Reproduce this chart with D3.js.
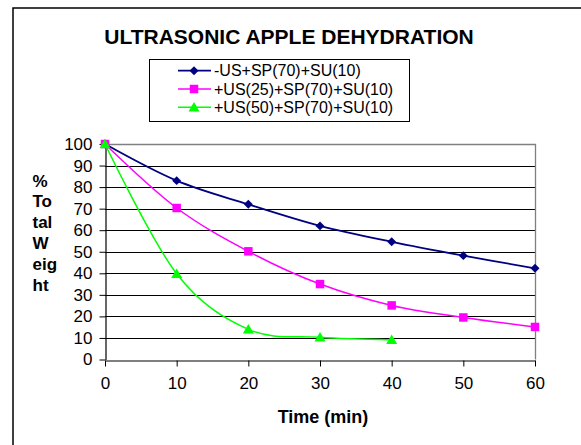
<!DOCTYPE html>
<html>
<head>
<meta charset="utf-8">
<script src="https://cdn.jsdelivr.net/npm/d3@7"></script>
<style>
  html, body { margin: 0; padding: 0; background: #fff; }
  svg { display: block; }
  text { font-family: "Liberation Sans", Arial, sans-serif; }
</style>
</head>
<body>
<svg id="chart" width="581" height="445"></svg>
<script>
// ---- data ----
const title = "ULTRASONIC APPLE DEHYDRATION";
const xTitle = "Time (min)";
const yTitleLines = ["%", "To", "tal", "W", "eig", "ht"];
const times = [0, 10, 20, 30, 40, 50, 60];
const seriesNames = ["-US+SP(70)+SU(10)", "+US(25)+SP(70)+SU(10)", "+US(50)+SP(70)+SU(10)"];
const seriesA = [100, 83, 72, 62, 54.6, 48.2, 42.3];
const seriesB = [100, 70.3, 50.2, 35, 25.1, 19.5, 15.1];
const seriesC = [100, 39.8, 14, 10.3, 9.1];
const xTicks = [0, 10, 20, 30, 40, 50, 60];
const yTicks = [0, 10, 20, 30, 40, 50, 60, 70, 80, 90, 100];

const colors = ["#000080", "#FF00FF", "#00FF00"];
const markers = [d3.symbolSquare, d3.symbolSquare, d3.symbolTriangle];
const markerSizes = [40, 72, 52];
const markerRot = [45, 0, 0];
const allSeries = [seriesA, seriesB, seriesC];

const svg = d3.select("#chart");

// outer chart border
svg.append("path")
  .attr("d", "M13,450 L13,8 L590,8")
  .attr("fill", "none").attr("stroke", "#000").attr("stroke-width", 1.5);

const x = d3.scaleLinear().domain([0, 60]).range([105, 535]);
const y = d3.scaleLinear().domain([0, 100]).range([359.5, 144]);

// gridlines
svg.append("g").selectAll("line")
  .data(yTicks.filter(v => v > 0 && v < 100))
  .join("line")
  .attr("x1", x(0)).attr("x2", x(60))
  .attr("y1", d => Math.round(y(d)) + 0.5).attr("y2", d => Math.round(y(d)) + 0.5)
  .attr("stroke", "#000").attr("stroke-width", 1);

// plot area border (top & right), grey
svg.append("path")
  .attr("d", `M${x(0)},${Math.round(y(100)) + 0.5} L${x(60) + 0.5},${Math.round(y(100)) + 0.5} L${x(60) + 0.5},${y(0)}`)
  .attr("fill", "none").attr("stroke", "#808080").attr("stroke-width", 1.3);

// y axis
const yAxis = svg.append("g")
  .attr("transform", `translate(${x(0) + 0.5},0)`)
  .call(d3.axisLeft(y).tickValues(yTicks).tickSize(6).tickPadding(7).tickSizeOuter(0));
yAxis.select(".domain").attr("stroke", "#000").attr("stroke-width", 1.2);
yAxis.selectAll(".tick line").attr("stroke", "#000");
yAxis.selectAll("text").attr("font-size", 17).attr("fill", "#000")
  .style("font-family", "'Liberation Sans', Arial, sans-serif");

// x axis
const xAxis = svg.append("g")
  .attr("transform", `translate(0,${Math.round(y(0)) + 0.5})`)
  .call(d3.axisBottom(x).tickValues(xTicks).tickSize(6).tickPadding(10).tickSizeOuter(0));
xAxis.select(".domain").attr("stroke", "#000").attr("stroke-width", 1.2);
xAxis.selectAll(".tick line").attr("stroke", "#000");
xAxis.selectAll("text").attr("font-size", 17).attr("fill", "#000")
  .style("font-family", "'Liberation Sans', Arial, sans-serif");

// lines
const line = d3.line()
  .x((d, i) => x(times[i]))
  .y(d => y(d))
  .curve(d3.curveCardinal.tension(0));

allSeries.forEach((s, k) => {
  svg.append("path")
    .datum(s)
    .attr("d", line)
    .attr("fill", "none")
    .attr("stroke", colors[k])
    .attr("stroke-width", k === 0 ? 1.8 : 1.5);
});
allSeries.forEach((s, k) => {
  svg.append("g").selectAll("path")
    .data(s)
    .join("path")
    .attr("transform", (d, i) => `translate(${x(times[i])},${y(d) + (k === 2 ? 1 : 0)}) rotate(${markerRot[k]})`)
    .attr("d", d3.symbol().type(markers[k]).size(markerSizes[k]))
    .attr("fill", colors[k]);
});

// title
svg.append("text")
  .attr("x", 289).attr("y", 44)
  .attr("text-anchor", "middle")
  .attr("font-size", 21).attr("font-weight", "bold")
  .text(title);

// legend
const lg = svg.append("g");
lg.append("rect")
  .attr("x", 149.5).attr("y", 59.5).attr("width", 260).attr("height", 62)
  .attr("fill", "#fff").attr("stroke", "#000").attr("stroke-width", 1);
seriesNames.forEach((name, k) => {
  const cy = 70.7 + k * 18.3;
  lg.append("line").attr("x1", 178).attr("x2", 211).attr("y1", cy).attr("y2", cy)
    .attr("stroke", colors[k]).attr("stroke-width", k === 0 ? 1.8 : 1.5);
  lg.append("path").attr("transform", `translate(194,${cy + (k === 2 ? 1 : 0)}) rotate(${markerRot[k]})`)
    .attr("d", d3.symbol().type(markers[k]).size(markerSizes[k]))
    .attr("fill", colors[k]);
  lg.append("text").attr("x", 214).attr("y", cy).attr("dy", "0.35em")
    .attr("font-size", 16).text(name);
});

// y title
const yt = svg.append("text")
  .attr("font-size", 17).attr("font-weight", "bold");
yTitleLines.forEach((t, i) => {
  yt.append("tspan").attr("x", 32.5).attr("y", 186.5 + i * 20.8).text(t);
});

// x title
svg.append("text")
  .attr("x", 323).attr("y", 423)
  .attr("text-anchor", "middle")
  .attr("font-size", 18).attr("font-weight", "bold")
  .text(xTitle);
</script>
</body>
</html>
